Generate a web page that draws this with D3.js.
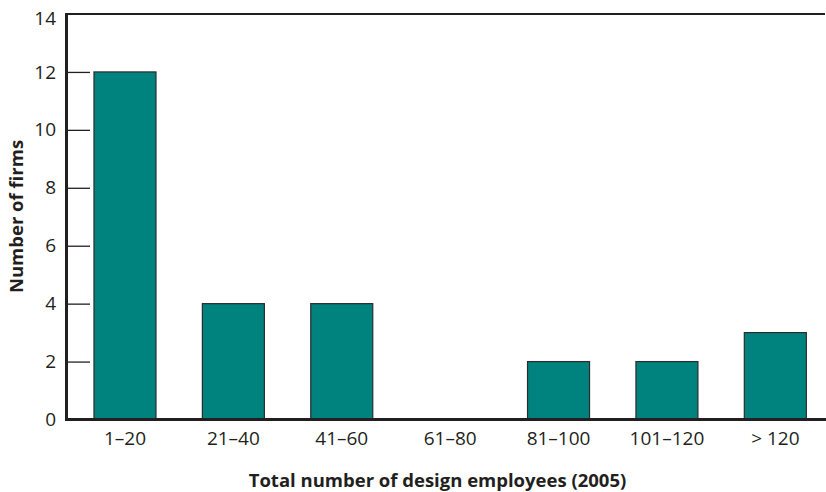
<!DOCTYPE html>
<html><head><meta charset="utf-8">
<script src="https://cdn.jsdelivr.net/npm/d3@7"></script>
<style>body{margin:0;background:#fff}svg{display:block}text{font-family:"Open Sans",sans-serif;fill:#231f20}</style>
</head><body>
<svg id="c" width="826" height="492"></svg>
<script>
const categories = ["1–20","21–40","41–60","61–80","81–100","101–120","> 120"];
const firms = [12,4,4,0,2,2,3];
const yTicks = [0,2,4,6,8,10,12,14];
const xTitle = "Total number of design employees (2005)";
const yTitle = "Number of firms";

const svg = d3.select("#c");
const x = d3.scaleBand().domain(categories).range([72.3, 828]).paddingInner(0.428).paddingOuter(0.2);
const y = d3.scaleLinear().domain([0,14]).range([419.5, 14]);

// bars
svg.append("g").selectAll("rect").data(firms).join("rect")
  .attr("x",(d,i)=>x(categories[i])).attr("width",x.bandwidth())
  .attr("y",d=>y(d)).attr("height",d=>y(0)-y(d))
  .attr("fill","#00837f").attr("stroke","#2b2b2b").attr("stroke-width",1.2);

// y axis ticks (inward)
const ya = d3.axisLeft(y).tickValues(yTicks).tickSize(0).tickPadding(10);
const gy = svg.append("g").attr("transform","translate(66,0)").call(ya);
gy.select(".domain").remove();
gy.selectAll("text").attr("font-size",19).attr("x",-10).attr("font-family","Open Sans")
  .attr("dy",d=>d===14?"0.55em":"0.32em");
gy.selectAll(".tick").filter(d=>d>0 && d<14).append("line")
  .attr("x1",2).attr("x2",24).attr("stroke","#231f20").attr("stroke-width",1.3);

// x axis labels
const xa = d3.axisBottom(x).tickSize(0).tickPadding(12);
const gx = svg.append("g").attr("transform","translate(0,419.5)").call(xa);
gx.select(".domain").remove();
gx.selectAll("text").attr("font-size",19).attr("font-family","Open Sans");

// frame lines
svg.append("line").attr("x1",66).attr("x2",825).attr("y1",14).attr("y2",14).attr("stroke","#231f20").attr("stroke-width",2);
svg.append("line").attr("x1",66.5).attr("x2",66.5).attr("y1",13).attr("y2",421).attr("stroke","#231f20").attr("stroke-width",3);
svg.append("line").attr("x1",65).attr("x2",826).attr("y1",419.5).attr("y2",419.5).attr("stroke","#231f20").attr("stroke-width",3);

// titles
svg.append("text").attr("x",437.5).attr("y",487).attr("text-anchor","middle")
  .attr("font-size",18.5).attr("font-weight","bold").text(xTitle);
svg.append("text").attr("transform","translate(22.5,216.5) rotate(-90)").attr("text-anchor","middle")
  .attr("font-size",18.5).attr("font-weight","bold").text(yTitle);
</script>
</body></html>
